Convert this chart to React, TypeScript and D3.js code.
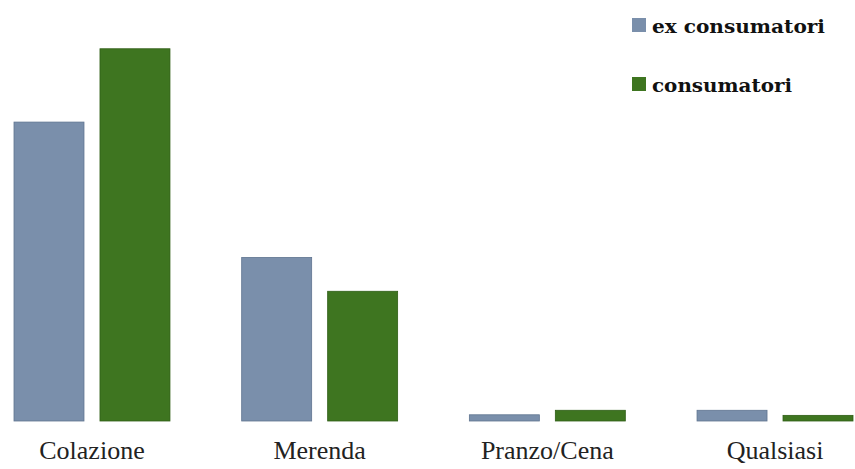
import React from "react";
import * as d3 from "d3";

// Momento di consumo: share of respondents per group
const categories = ["Colazione", "Merenda", "Pranzo/Cena", "Qualsiasi"];
const seriesNames = ["ex consumatori", "consumatori"];
const exConsumatori = [53, 29, 1.1, 1.9];
const consumatori = [66, 23, 1.9, 1.0];
const seriesColors = ["#7a8fab", "#3e7520"];
const seriesStroke = ["#5f7490", "#2f5e16"];

const W = 855;
const H = 469;
const baseline = 421;

export default function App() {
  const x0 = d3
    .scaleBand<string>()
    .domain(categories)
    .range([14, 853])
    .paddingInner(0.315)
    .paddingOuter(0);
  const x1 = d3
    .scaleBand<string>()
    .domain(seriesNames)
    .range([0, x0.bandwidth()])
    .paddingInner(0.186);
  const y = d3.scaleLinear().domain([0, 70]).range([baseline, baseline - 70 * 5.64]);

  const values = [exConsumatori, consumatori];

  return (
    <div style={{ position: "fixed", left: 0, top: 0 }}>
      <svg width={W} height={H} style={{ display: "block", background: "#fff" }}>
        {categories.map((c, ci) => (
          <g key={c} transform={`translate(${x0(c)},0)`}>
            {seriesNames.map((s, si) => {
              const v = values[si][ci];
              return (
                <rect
                  key={s}
                  x={x1(s)}
                  y={y(v)}
                  width={x1.bandwidth()}
                  height={baseline - y(v)}
                  fill={seriesColors[si]}
                  stroke={seriesStroke[si]}
                  strokeWidth={0.8}
                />
              );
            })}
            <text
              x={x0.bandwidth() / 2}
              y={459}
              textAnchor="middle"
              fontFamily="'Liberation Serif', 'Times New Roman', serif"
              fontSize={26}
              fill="#222"
            >
              {c}
            </text>
          </g>
        ))}
        {seriesNames.map((s, si) => (
          <g key={s} transform={`translate(632,${18 + si * 59})`}>
            <rect width={14} height={14} fill={seriesColors[si]} />
            <text
              x={20}
              y={15}
              fontFamily="'DejaVu Serif', serif"
              fontWeight="bold"
              fontSize={18}
              textLength={si === 0 ? 173 : 140}
              lengthAdjust="spacingAndGlyphs"
              fill="#111"
            >
              {s}
            </text>
          </g>
        ))}
      </svg>
    </div>
  );
}
